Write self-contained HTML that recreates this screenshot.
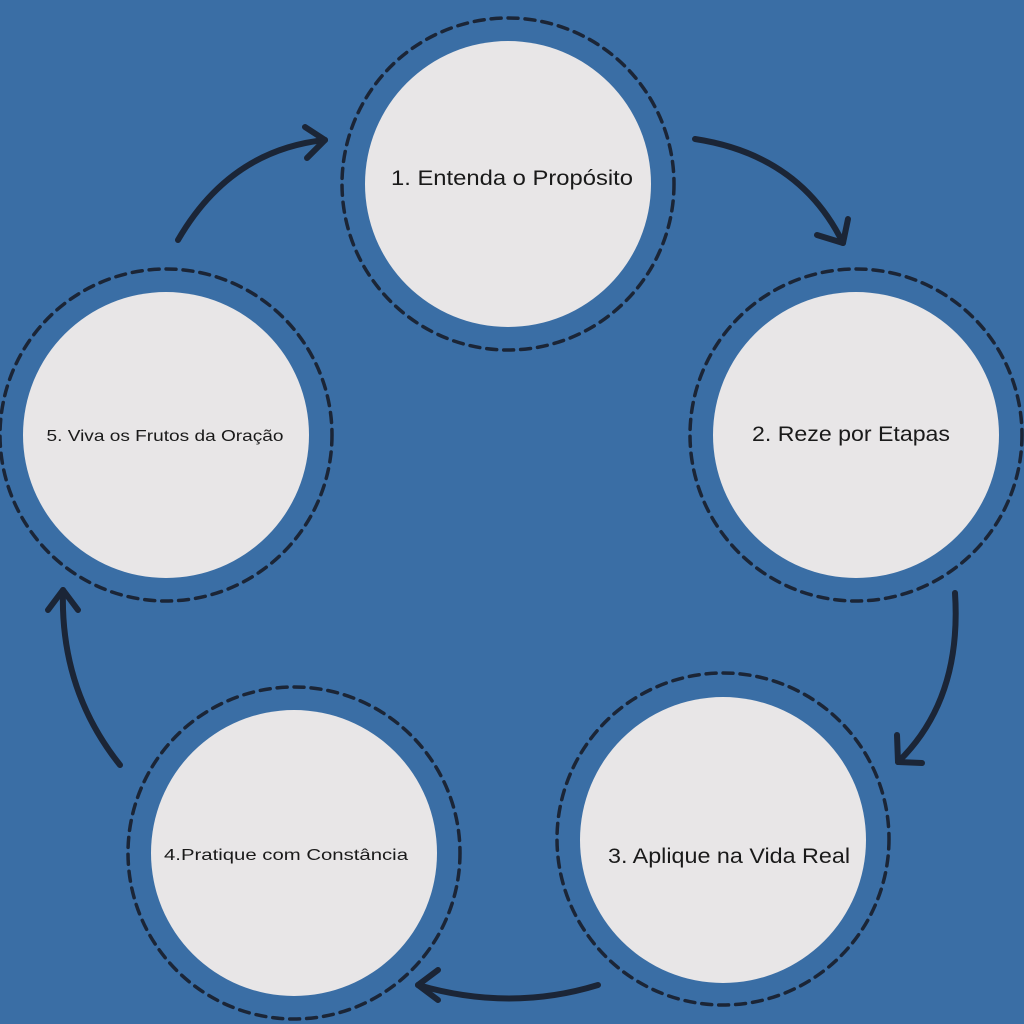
<!DOCTYPE html>
<html><head><meta charset="utf-8"><style>html,body{margin:0;padding:0;background:#3a6ea5}svg{display:block}</style></head>
<body>
<svg width="1024" height="1024" viewBox="0 0 1024 1024" xmlns="http://www.w3.org/2000/svg">
<rect width="1024" height="1024" fill="#3a6ea5"/>
<g fill="#e8e6e7">
<circle cx="508" cy="184" r="143"/>
<circle cx="856" cy="435" r="143"/>
<circle cx="723" cy="840" r="143"/>
<circle cx="294" cy="853" r="143"/>
<circle cx="166" cy="435" r="143"/>
</g>
<g fill="none" stroke="#1b2536" stroke-width="3.5" stroke-dasharray="10 7" stroke-linecap="round">
<circle cx="508" cy="184" r="166"/>
<circle cx="856" cy="435" r="166"/>
<circle cx="723" cy="839" r="166"/>
<circle cx="294" cy="853" r="166"/>
<circle cx="166" cy="435" r="166"/>
</g>
<g fill="none" stroke="#1b2536" stroke-width="6" stroke-linecap="round" stroke-linejoin="round">
<path d="M695 139 Q800 155 843 243"/><path d="M817 235 L843 243 L848 219"/>
<path d="M955 593 Q962 700 898 762"/><path d="M897 735 L898 762 L922 763"/>
<path d="M598 985 Q510 1012 418 985"/><path d="M438 970 L418 985 L438 1000"/>
<path d="M120 765 Q60 690 63 590"/><path d="M48 610 L63 590 L78 610"/>
<path d="M178 240 Q230 150 325 140"/><path d="M305 127 L325 140 L307 158"/>
</g>
<g font-family="Liberation Sans, sans-serif" fill="#1a1a1a" text-anchor="middle">
<text x="512" y="185" font-size="21" textLength="242" lengthAdjust="spacingAndGlyphs">1. Entenda o Propósito</text>
<text x="851" y="441" font-size="21" textLength="198" lengthAdjust="spacingAndGlyphs">2. Reze por Etapas</text>
<text x="729" y="863" font-size="21" textLength="242" lengthAdjust="spacingAndGlyphs">3. Aplique na Vida Real</text>
<text x="286" y="860" font-size="16" textLength="244" lengthAdjust="spacingAndGlyphs">4.Pratique com Constância</text>
<text x="165" y="441" font-size="16" textLength="237" lengthAdjust="spacingAndGlyphs">5. Viva os Frutos da Oração</text>
</g>
</svg>
</body></html>
